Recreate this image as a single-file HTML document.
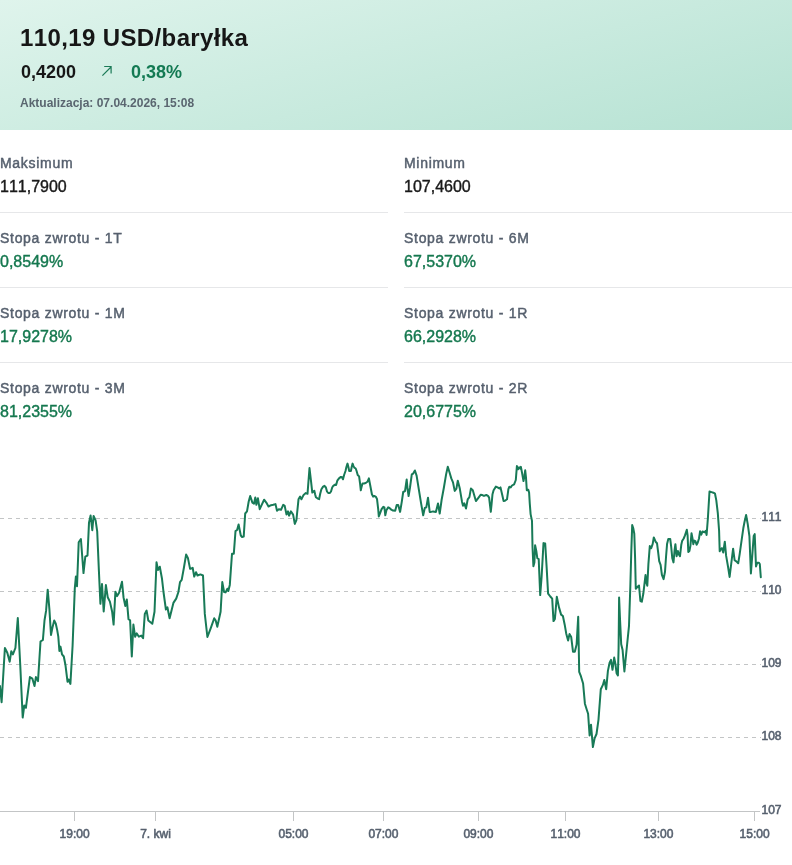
<!DOCTYPE html>
<html lang="pl"><head><meta charset="utf-8"><title>110,19 USD/baryłka</title>
<style>
*{box-sizing:border-box;margin:0;padding:0}
html,body{width:792px;height:865px;overflow:hidden;background:#fff;-webkit-font-smoothing:antialiased}
body{position:relative;font-kerning:none;font-family:"Liberation Sans",sans-serif;color:#1a1a1a}
.hdr{position:absolute;left:0;top:0;width:792px;height:130px;background:linear-gradient(165deg,#dff4ec 0%,#b6e2d3 100%)}
.t{position:absolute;white-space:nowrap;will-change:transform}
#title{left:20px;top:26px;font-size:24px;line-height:24px;font-weight:700;letter-spacing:0.38px;color:#161616}
#chg{left:20.5px;top:63px;font-size:18px;line-height:18px;font-weight:700;color:#161616}
#pct{left:131px;top:63px;font-size:18px;line-height:18px;font-weight:700;color:#137a53}
#arr{position:absolute;left:96px;top:60px}
#upd{left:20.3px;top:97px;font-size:12px;line-height:12px;font-weight:700;color:#5a6670}
.cell{position:absolute;width:388px;height:75px;padding-top:18px;will-change:transform}
.bd{border-bottom:1px solid #e6e7e9}
.lb{font-size:14px;line-height:14px;font-weight:400;letter-spacing:0.7px;color:#56606e;-webkit-text-stroke:0.45px #56606e;height:23px}
.v{font-size:16px;line-height:16px;color:#1a1a1a;-webkit-text-stroke:0.4px #1a1a1a}
.v.g{color:#15784f;-webkit-text-stroke:0.4px #15784f}
svg{position:absolute;left:0;top:0;will-change:transform}
.g{stroke:#c3c5c6;stroke-width:1;stroke-dasharray:4 4}
.ax{stroke:#c3c5c6;stroke-width:1}
.yl{font-family:"Liberation Sans",sans-serif;font-size:12px;font-weight:400;font-kerning:none;fill:#56606e;stroke:#56606e;stroke-width:0.55px}
.xl{font-family:"Liberation Sans",sans-serif;font-size:12px;font-kerning:none;font-weight:400;fill:#56606e;stroke:#56606e;stroke-width:0.55px;text-anchor:middle}
</style></head><body>
<div class="hdr"></div>
<div class="t" id="title">110,19 USD/baryłka</div>
<div class="t" id="chg">0,4200</div>
<svg id="arr" width="20" height="20" viewBox="0 0 20 20"><path d="M6.4 15.6 L15 7 M8.2 6.5 H15.6 M15.1 6 V13.6" fill="none" stroke="#1b7a57" stroke-width="1.2"/></svg>
<div class="t" id="pct">0,38%</div>
<div class="t" id="upd">Aktualizacja: 07.04.2026, 15:08</div>
<div class="cell bd" style="left:0;top:138px"><div class="lb">Maksimum</div><div class="v">111,7900</div></div>
<div class="cell bd" style="left:404px;top:138px"><div class="lb">Minimum</div><div class="v">107,4600</div></div>
<div class="cell bd" style="left:0;top:213px"><div class="lb">Stopa zwrotu - 1T</div><div class="v g">0,8549%</div></div>
<div class="cell bd" style="left:404px;top:213px"><div class="lb">Stopa zwrotu - 6M</div><div class="v g">67,5370%</div></div>
<div class="cell bd" style="left:0;top:288px"><div class="lb">Stopa zwrotu - 1M</div><div class="v g">17,9278%</div></div>
<div class="cell bd" style="left:404px;top:288px"><div class="lb">Stopa zwrotu - 1R</div><div class="v g">66,2928%</div></div>
<div class="cell" style="left:0;top:363px"><div class="lb">Stopa zwrotu - 3M</div><div class="v g">81,2355%</div></div>
<div class="cell" style="left:404px;top:363px"><div class="lb">Stopa zwrotu - 2R</div><div class="v g">20,6775%</div></div>

<svg width="792" height="865" viewBox="0 0 792 865" style="top:0">
<line x1="0" y1="518.5" x2="761" y2="518.5" class="g"/>
<line x1="0" y1="591.5" x2="761" y2="591.5" class="g"/>
<line x1="0" y1="664.5" x2="761" y2="664.5" class="g"/>
<line x1="0" y1="737.5" x2="761" y2="737.5" class="g"/>
<line x1="0" y1="811.5" x2="760" y2="811.5" class="ax"/>
<line x1="74.5" y1="811" x2="74.5" y2="821" class="ax"/>
<text x="74.6" y="838.2" class="xl">19:00</text>
<line x1="155.5" y1="811" x2="155.5" y2="821" class="ax"/>
<text x="155.5" y="838.2" class="xl">7. kwi</text>
<line x1="293.5" y1="811" x2="293.5" y2="821" class="ax"/>
<text x="293.5" y="838.2" class="xl">05:00</text>
<line x1="383.5" y1="811" x2="383.5" y2="821" class="ax"/>
<text x="383.4" y="838.2" class="xl">07:00</text>
<line x1="478.5" y1="811" x2="478.5" y2="821" class="ax"/>
<text x="478.4" y="838.2" class="xl">09:00</text>
<line x1="565.5" y1="811" x2="565.5" y2="821" class="ax"/>
<text x="565.5" y="838.2" class="xl">11:00</text>
<line x1="658.5" y1="811" x2="658.5" y2="821" class="ax"/>
<text x="658.4" y="838.2" class="xl">13:00</text>
<line x1="754.5" y1="811" x2="754.5" y2="821" class="ax"/>
<text x="754.6" y="838.2" class="xl">15:00</text>
<text x="761.5" y="521.0" class="yl">111</text>
<text x="761.5" y="594.1" class="yl">110</text>
<text x="761.5" y="667.2" class="yl">109</text>
<text x="761.5" y="740.3" class="yl">108</text>
<text x="761.5" y="813.6" class="yl">107</text>
<path d="M0.0 686.0 L1.6 702.2 L4.9 648.0 L7.3 652.8 L9.7 661.7 L11.3 651.2 L12.9 654.4 L15.4 648.0 L17.8 618.0 L20.2 664.1 L22.7 717.5 L24.3 705.4 L25.9 707.8 L29.9 677.1 L32.4 678.7 L34.5 686.0 L35.9 677.1 L38.0 681.1 L40.5 641.5 L42.9 639.9 L44.5 620.5 L46.1 610.7 L47.7 589.7 L49.4 609.1 L51.0 635.0 L52.6 626.9 L54.2 620.5 L55.8 623.7 L57.2 630.1 L58.3 636.7 L59.4 651.0 L60.5 646.6 L62.0 654.3 L63.8 656.5 L65.5 665.3 L67.5 681.7 L68.6 679.5 L70.4 683.9 L72.6 645.5 L74.8 588.4 L75.9 576.4 L77.0 586.2 L78.7 542.3 L80.9 539.0 L83.5 573.1 L85.3 556.6 L87.5 555.5 L89.0 522.6 L90.6 515.5 L92.3 530.2 L93.6 516.0 L95.6 520.4 L97.2 531.3 L98.9 570.9 L100.4 603.8 L102.0 584.0 L103.7 611.5 L105.9 585.1 L107.7 597.2 L109.9 601.6 L112.1 611.5 L113.6 624.6 L115.4 591.7 L117.1 596.1 L119.1 592.8 L122.0 581.8 L123.5 597.2 L125.3 606.0 L126.8 599.4 L128.5 619.2 L130.1 620.3 L131.8 656.5 L133.4 624.6 L135.1 636.7 L136.7 633.4 L138.9 636.7 L141.3 635.6 L143.1 638.1 L144.8 613.9 L146.6 610.6 L148.3 620.5 L150.5 622.3 L152.3 623.8 L154.5 611.7 L156.5 562.3 L158.0 570.0 L159.8 566.7 L162.0 578.8 L163.5 592.0 L165.9 609.5 L167.4 607.3 L169.6 618.3 L173.4 602.9 L176.2 598.6 L178.4 592.0 L180.0 582.1 L181.7 579.9 L183.9 567.8 L186.1 554.6 L187.9 557.9 L190.1 568.9 L192.7 567.8 L194.2 576.6 L196.0 572.2 L197.5 575.5 L200.4 574.4 L203.0 575.5 L204.8 613.9 L207.4 637.0 L210.3 629.3 L214.2 618.3 L215.7 620.5 L217.3 626.7 L220.6 611.7 L222.3 582.1 L224.1 592.0 L225.6 592.4 L227.4 588.7 L228.3 591.0 L229.8 584.9 L232.0 553.7 L233.8 553.7 L235.5 531.1 L237.1 530.0 L238.6 524.5 L240.8 535.5 L242.1 537.0 L243.7 536.6 L245.2 513.5 L247.0 511.4 L248.7 501.5 L250.2 496.0 L252.4 502.6 L254.0 503.7 L255.3 497.5 L256.4 504.8 L257.9 498.2 L259.7 509.2 L261.7 504.8 L264.1 499.7 L266.3 502.6 L268.5 506.5 L271.1 505.2 L273.3 504.8 L275.5 504.1 L277.0 510.7 L278.8 509.2 L281.0 509.8 L283.2 504.8 L284.7 505.9 L286.5 514.6 L288.0 511.4 L289.1 515.7 L290.9 511.4 L293.1 514.6 L294.8 523.9 L296.4 520.1 L298.5 499.3 L300.1 496.6 L301.4 499.3 L303.6 494.9 L305.8 493.1 L307.5 493.8 L309.5 468.1 L311.1 481.8 L312.3 492.6 L313.4 491.5 L314.3 490.7 L315.1 494.3 L315.9 497.2 L317.4 498.3 L319.1 499.2 L320.2 493.8 L321.4 489.2 L323.1 486.6 L324.5 485.8 L325.9 487.5 L327.0 491.5 L328.2 493.0 L329.9 493.0 L331.0 491.5 L332.2 487.5 L333.3 485.8 L335.0 484.7 L336.1 485.0 L337.3 480.7 L339.0 478.4 L340.9 476.9 L342.0 477.3 L343.0 479.3 L344.1 475.0 L345.5 471.0 L346.4 467.0 L347.5 463.6 L348.4 467.0 L349.2 471.0 L350.9 471.0 L351.8 466.5 L352.6 463.6 L353.4 465.9 L354.3 467.6 L355.7 468.5 L356.6 471.0 L357.7 475.0 L359.1 476.4 L360.0 483.0 L360.8 490.3 L361.7 486.4 L362.5 483.5 L364.0 483.5 L365.7 483.0 L367.4 481.8 L368.9 478.4 L370.2 485.2 L371.9 494.3 L373.1 496.6 L374.2 496.0 L375.7 496.6 L377.0 498.9 L378.2 509.1 L378.8 516.5 L379.9 513.6 L381.6 509.1 L383.3 506.8 L384.4 507.4 L385.3 515.3 L386.4 510.2 L388.2 507.4 L389.5 508.0 L391.3 509.7 L393.0 510.6 L395.2 510.8 L396.7 505.1 L398.2 505.1 L400.1 511.9 L401.8 501.7 L403.2 492.0 L405.0 491.1 L406.7 479.5 L407.5 488.6 L408.6 496.0 L410.0 487.5 L411.8 474.4 L413.2 473.6 L414.9 470.5 L416.6 475.6 L418.9 489.8 L421.1 503.4 L423.2 515.3 L424.8 508.0 L426.3 507.4 L428.0 497.7 L429.7 511.9 L431.1 511.9 L433.1 511.4 L435.9 511.9 L438.0 503.4 L439.7 513.6 L441.6 500.0 L443.9 487.5 L446.1 474.4 L447.8 466.8 L449.5 472.2 L451.3 478.4 L453.0 482.4 L454.7 490.9 L456.4 488.6 L457.8 480.7 L459.8 488.6 L462.0 501.7 L463.0 505.7 L464.3 503.4 L466.0 508.5 L467.7 499.4 L469.4 497.2 L470.9 488.6 L472.8 490.3 L474.3 495.5 L475.9 501.1 L478.0 498.3 L480.8 494.7 L482.8 495.3 L484.0 495.9 L486.3 495.0 L488.0 495.9 L489.1 497.6 L490.8 511.8 L491.6 503.9 L492.5 494.2 L493.6 490.2 L495.9 486.6 L497.6 487.4 L499.3 488.5 L500.5 487.4 L502.2 494.8 L503.6 501.0 L505.0 500.7 L507.0 499.3 L508.4 489.1 L509.3 486.8 L510.7 487.4 L512.0 485.5 L514.1 484.3 L515.8 480.0 L516.9 466.1 L518.1 469.2 L519.2 467.3 L520.3 468.6 L520.9 466.9 L522.0 472.6 L523.5 481.1 L524.5 475.5 L525.2 470.3 L526.0 477.7 L526.8 490.2 L528.3 489.7 L529.1 492.5 L529.8 503.9 L530.6 514.1 L532.0 520.9 L532.5 546.7 L533.4 566.2 L534.4 562.6 L535.1 545.2 L536.3 551.0 L537.3 558.2 L538.7 559.0 L540.2 595.1 L541.6 577.0 L543.5 543.1 L545.2 543.5 L546.7 568.4 L548.1 593.6 L550.3 596.5 L552.2 598.7 L553.5 621.1 L554.9 618.9 L556.8 596.8 L559.0 607.4 L561.1 614.6 L562.9 616.0 L564.7 624.7 L566.2 633.4 L568.1 640.6 L569.5 634.1 L571.2 637.0 L573.0 651.7 L574.8 651.7 L576.6 644.5 L578.2 616.8 L579.2 671.9 L580.9 676.2 L583.1 683.5 L584.9 703.7 L586.7 709.5 L588.1 713.8 L589.6 735.5 L591.0 724.7 L592.9 747.1 L594.6 738.4 L596.5 734.0 L598.5 719.6 L600.8 689.2 L602.9 684.9 L604.3 679.9 L606.2 689.2 L607.9 670.9 L609.6 662.8 L611.0 659.9 L612.5 669.8 L614.2 657.6 L615.4 664.0 L616.6 673.2 L617.9 675.5 L618.6 647.8 L619.1 597.5 L620.0 618.9 L621.2 644.3 L622.6 650.1 L624.4 671.5 L627.0 645.5 L629.0 625.8 L630.3 587.3 L631.3 551.1 L632.2 525.1 L633.2 528.0 L634.3 533.8 L635.1 558.4 L635.8 588.7 L637.1 587.3 L639.0 585.5 L640.4 601.0 L641.8 601.7 L643.3 593.8 L645.5 575.0 L646.5 582.9 L647.3 585.8 L648.4 564.1 L649.8 546.1 L651.2 548.2 L652.7 543.9 L653.8 537.4 L655.6 541.7 L657.0 543.2 L658.2 552.6 L659.2 561.2 L660.6 564.9 L661.9 574.9 L663.6 579.1 L665.0 571.8 L666.0 557.2 L667.1 543.7 L668.3 539.0 L670.2 539.0 L671.2 546.8 L672.3 558.3 L673.5 562.4 L674.6 550.0 L675.4 544.2 L676.6 556.2 L677.9 551.0 L679.0 554.6 L680.0 556.2 L681.3 544.7 L682.1 541.1 L683.7 538.5 L685.0 535.4 L686.8 529.7 L687.6 535.4 L688.3 552.0 L689.4 551.0 L690.4 545.8 L691.5 533.3 L692.5 538.5 L693.3 544.2 L694.3 540.6 L695.4 541.1 L696.6 544.7 L697.7 542.7 L699.0 538.5 L700.1 531.2 L701.3 534.7 L702.5 531.5 L704.5 532.2 L705.7 530.9 L706.6 535.0 L707.9 518.2 L709.5 491.5 L711.5 492.1 L713.4 492.7 L715.0 493.7 L716.3 500.4 L717.8 513.1 L719.1 530.9 L719.7 551.2 L720.7 549.3 L721.9 548.1 L723.2 552.5 L724.8 541.7 L726.1 555.7 L728.0 566.5 L729.6 576.9 L731.2 564.0 L733.1 548.7 L734.6 560.2 L736.3 561.4 L738.2 563.3 L739.7 553.8 L741.3 542.3 L743.3 528.3 L744.5 522.0 L746.1 515.0 L747.7 523.9 L749.4 536.0 L750.9 573.5 L752.2 556.3 L753.7 536.0 L754.7 534.1 L756.0 566.5 L757.3 562.7 L758.8 562.7 L759.8 564.0 L760.8 577.3" fill="none" stroke="#187a57" stroke-width="2" stroke-linejoin="round" stroke-linecap="round"/>
</svg>
</body></html>
